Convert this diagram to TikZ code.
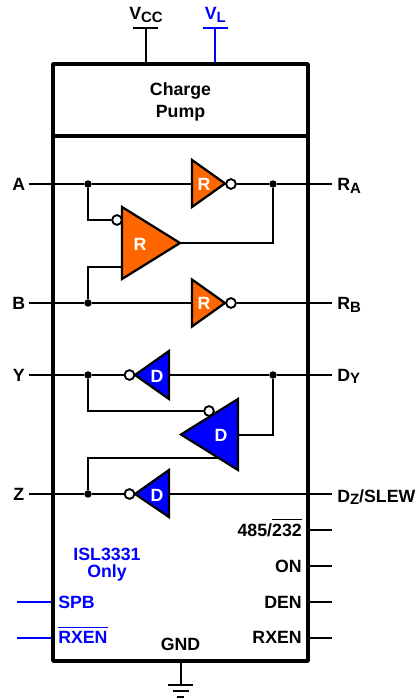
\documentclass[tikz,border=0pt]{standalone}
\usepackage{fontspec}
\setmainfont{Liberation Sans}
\usetikzlibrary{calc}
\definecolor{pumporange}{HTML}{FF6600}
\definecolor{pinblue}{HTML}{0000FF}
\newcommand{\lowsub}[1]{\raisebox{-1.9pt}{\fontsize{11.2}{12}\selectfont #1}}
\newcommand{\ovlbar}[2]{\vbox{\hrule height 1pt \kern #1\hbox{#2}}}
\tikzset{
  wire/.style={line width=1.4pt},
  bluewire/.style={line width=1.4pt,draw=pinblue},
  frame/.style={line width=2.8pt,line cap=round,line join=round},
  rtri/.style={draw=black,fill=pumporange,line width=1.7pt,line join=miter},
  dtri/.style={draw=black,fill=pinblue,line width=1.7pt,line join=miter},
  bubble/.style={circle,draw=black,fill=white,line width=1.3pt,minimum size=7.2pt,inner sep=0pt},
  junction/.style={circle,fill=black,minimum size=5.6pt,inner sep=0pt},
  lbl/.style={font=\bfseries\fontsize{13.3}{15}\selectfont,inner sep=0pt,text=black},
  lblw/.style={lbl,anchor=base west},
  lble/.style={lbl,anchor=base east},
  lblc/.style={lbl,anchor=base},
  blbl/.style={text=pinblue},
  gate/.style={lbl,text=white,anchor=center}
}
\begin{document}
\begin{tikzpicture}[x=0.75pt,y=-0.75pt]
\useasboundingbox (0,0) rectangle (416,698);
% named points
\coordinate (boxTL) at (53,64);
\coordinate (boxTR) at (308,64);
\coordinate (boxBR) at (308,661);
\coordinate (boxBL) at (53,661);
\coordinate (divL) at (53,136);
\coordinate (divR) at (308,136);
\coordinate (vccTop) at (146,28);
\coordinate (vccBot) at (146,64);
\coordinate (vccA) at (133,28);
\coordinate (vccB) at (158,28);
\coordinate (vlTop) at (215,28);
\coordinate (vlBot) at (215,64);
\coordinate (vlA) at (203,28);
\coordinate (vlB) at (228,28);
\coordinate (pinA) at (29,184);
\coordinate (pinRA) at (332,184);
\coordinate (pinB) at (29,303);
\coordinate (pinRB) at (332,303);
\coordinate (pinY) at (29,375);
\coordinate (pinDY) at (332,375);
\coordinate (pinZ) at (29,494);
\coordinate (pinDZ) at (332,494);
% gate inputs and outputs
\coordinate (r1in) at (192,184);
\coordinate (r2in) at (192,303);
\coordinate (r3a) at (122,220);
\coordinate (r3b) at (122,267);
\coordinate (r3out) at (180,243);
\coordinate (d1out) at (169,375);
\coordinate (d3out) at (169,494);
\coordinate (d2in) at (238,435);
\coordinate (d2b) at (222,458);
% junctions and bubbles
\node[junction] (jA) at (88,184) {};
\node[junction] (jRA) at (273,184) {};
\node[junction] (jB) at (88,303) {};
\node[junction] (jY) at (88,375) {};
\node[junction] (jDY) at (273,375) {};
\node[junction] (jZ) at (88,494) {};
\node[bubble] (b1) at (231,184) {};
\node[bubble] (b2) at (231,303) {};
\node[bubble] (b3) at (117,220) {};
\node[bubble] (b4) at (129.5,375) {};
\node[bubble] (b5) at (209,411) {};
\node[bubble] (b6) at (129.5,494) {};
% connectors
\draw[wire] (pinA) -- (jA) -- (r1in);
\draw[wire] (b1) -- (jRA) -- (pinRA);
\draw[wire] (pinB) -- (jB) -- (r2in);
\draw[wire] (b2) -- (pinRB);
\draw[wire] (pinY) -- (jY) -- (b4);
\draw[wire] (d1out) -- (jDY) -- (pinDY);
\draw[wire] (pinZ) -- (jZ) -- (b6);
\draw[wire] (d3out) -- (pinDZ);
\draw[wire] (jA) |- (b3);
\draw[wire] (jB) |- (r3b);
\draw[wire] (r3out) -| (jRA);
\draw[wire] (jY) |- (b5);
\draw[wire] (jZ) |- (d2b);
\draw[wire] (d2in) -| (jDY);
% gates
\draw[rtri] (192,160) -- (192,207) -- (225,183.5) -- cycle;
\draw[rtri] (192,279.5) -- (192,326.5) -- (225,303) -- cycle;
\draw[rtri] (122,207) -- (122,279) -- (180,243) -- cycle;
\draw[dtri] (169,351) -- (169,399) -- (135,375) -- cycle;
\draw[dtri] (169,470) -- (169,517) -- (135,494) -- cycle;
\draw[dtri] (238,399) -- (238,470) -- (181,434.5) -- cycle;
\node[bubble] at (b1) {};
\node[bubble] at (b2) {};
\node[bubble] at (b3) {};
\node[bubble] at (b4) {};
\node[bubble] at (b5) {};
\node[bubble] at (b6) {};
\node[gate] (gR1) at (204,184.5) {R};
\node[gate] (gR2) at (204,303.5) {R};
\node[gate] (gR3) at (140,244) {R};
\node[gate] (gD1) at (157,376) {D};
\node[gate] (gD2) at (221,435) {D};
\node[gate] (gD3) at (157,495) {D};
% supply pins
\draw[wire] (vccTop) -- (vccBot);
\draw[wire] (vccA) -- (vccB);
\draw[bluewire] (vlTop) -- (vlBot);
\draw[bluewire] (vlA) -- (vlB);
% right and left stub pins
\coordinate (s1a) at (308,530); \coordinate (s1b) at (332,530);
\coordinate (s2a) at (308,566); \coordinate (s2b) at (332,566);
\coordinate (s3a) at (308,602); \coordinate (s3b) at (332,602);
\coordinate (s4a) at (308,638); \coordinate (s4b) at (332,638);
\coordinate (s5a) at (17,602); \coordinate (s5b) at (53,602);
\coordinate (s6a) at (17,638); \coordinate (s6b) at (53,638);
\draw[wire] (s1a) -- (s1b);
\draw[wire] (s2a) -- (s2b);
\draw[wire] (s3a) -- (s3b);
\draw[wire] (s4a) -- (s4b);
\draw[bluewire] (s5a) -- (s5b);
\draw[bluewire] (s6a) -- (s6b);
% ground
\coordinate (gndTop) at (181,661);
\coordinate (gndBot) at (181,685);
\coordinate (g1a) at (168,685); \coordinate (g1b) at (193,685);
\coordinate (g2a) at (172.5,691); \coordinate (g2b) at (188.5,691);
\coordinate (g3a) at (177,697); \coordinate (g3b) at (184,697);
\draw[wire] (gndTop) -- (gndBot);
\draw[wire] (g1a) -- (g1b);
\draw[wire] (g2a) -- (g2b);
\draw[wire] (g3a) -- (g3b);
% package
\draw[frame] (boxTL) -- (boxTR) -- (boxBR) -- (boxBL) -- cycle;
\draw[frame] (divL) -- (divR);
% labels
\node[lblw] (tVcc) at (129,19.5) {V\lowsub{CC}};
\node[lblw,blbl] (tVl) at (204.5,19.5) {V\lowsub{L}};
\node[lblc] (tCharge) at (180.5,96) {Charge};
\node[lblc] (tPump) at (180.5,118) {Pump};
\node[lblw] (tA) at (12,190.5) {A};
\node[lblw] (tB) at (12,309.5) {B};
\node[lblw] (tY) at (12.5,381.5) {Y};
\node[lblw] (tZ) at (13,500.5) {Z};
\node[lblw] (tRA) at (337,190.5) {R\lowsub{A}};
\node[lblw] (tRB) at (337,309.5) {R\lowsub{B}};
\node[lblw] (tDY) at (337,381) {D\lowsub{Y}};
\node[lblw] (tDZ) at (337,502) {D\lowsub{Z}/SLEW};
\node[lble] (t485) at (302,536.5) {485/\ovlbar{3.2pt}{232}};
\node[lble] (tON) at (302,572.5) {ON};
\node[lble] (tDEN) at (302,608.5) {DEN};
\node[lble] (tRXEN) at (302,643.5) {RXEN};
\node[lblc,blbl] (tISL) at (107,560) {ISL3331};
\node[lblc,blbl] (tOnly) at (107,577.5) {Only};
\node[lblw,blbl] (tSPB) at (58,608.5) {SPB};
\node[lblw,blbl] (tRXENb) at (58,643.5) {\ovlbar{2.2pt}{RXEN}};
\node[lblc] (tGND) at (180.5,650.5) {GND};
\end{tikzpicture}
\end{document}
